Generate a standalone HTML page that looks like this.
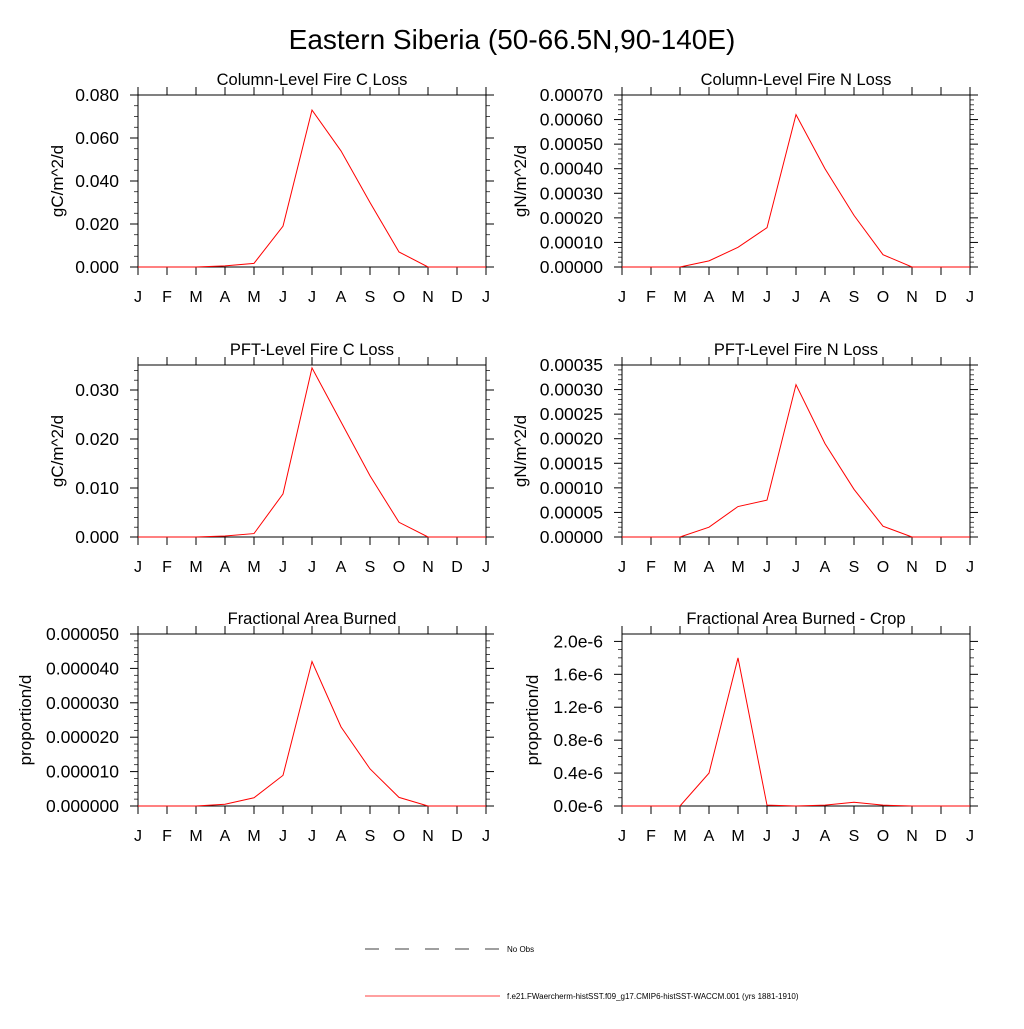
<!DOCTYPE html>
<html><head><meta charset="utf-8">
<style>
body{margin:0;background:#fff;}
svg text{font-family:"Liberation Sans",sans-serif;fill:#000;}
</style></head>
<body>
<svg id="fig" width="1024" height="1024" viewBox="0 0 1024 1024" xmlns="http://www.w3.org/2000/svg">
<rect width="1024" height="1024" fill="#fff"/>
<text x="512" y="49" font-size="28" text-anchor="middle">Eastern Siberia (50-66.5N,90-140E)</text>
<g>
<line x1="365" y1="949" x2="500" y2="949" stroke="#000" stroke-width="0.8" stroke-dasharray="14,16"/>
<text x="507" y="952" font-size="8">No Obs</text>
<line x1="365" y1="996" x2="500" y2="996" stroke="#ff0000" stroke-width="0.8"/>
<text x="507" y="999" font-size="8">f.e21.FWaercherm-histSST.f09_g17.CMIP6-histSST-WACCM.001 (yrs 1881-1910)</text>
</g>
</svg>
<script>
const months = ["J","F","M","A","M","J","J","A","S","O","N","D","J"];
const colC = [0,0,0,0.0005,0.0017,0.019,0.073,0.054,0.030,0.007,0,0,0];
const colN = [0,0,0,0.000025,0.00008,0.00016,0.00062,0.0004,0.00021,0.00005,0,0,0];
const pftC = [0,0,0,0.0002,0.0007,0.0088,0.0345,0.0235,0.0125,0.003,0,0,0];
const pftN = [0,0,0,0.00002,0.000062,0.000075,0.00031,0.00019,0.000097,0.000022,0,0,0];
const fab = [0,0,0,0.0000005,0.0000024,0.0000089,0.000042,0.000023,0.0000108,0.0000025,0,0,0];
const fabCrop = [0,0,0,0.4,1.8,0.01,0,0.01,0.045,0.01,0,0,0];
const ticksColC = ["0.000","0.020","0.040","0.060","0.080"];
const ticksColN = ["0.00000","0.00010","0.00020","0.00030","0.00040","0.00050","0.00060","0.00070"];
const ticksPftC = ["0.000","0.010","0.020","0.030"];
const ticksPftN = ["0.00000","0.00005","0.00010","0.00015","0.00020","0.00025","0.00030","0.00035"];
const ticksFab = ["0.000000","0.000010","0.000020","0.000030","0.000040","0.000050"];
const ticksCrop = ["0.0e-6","0.4e-6","0.8e-6","1.2e-6","1.6e-6","2.0e-6"];

const NS="http://www.w3.org/2000/svg";
const svg=document.getElementById('fig');
function mk(tag,attrs,parent){const e=document.createElementNS(NS,tag);for(const k in attrs)e.setAttribute(k,attrs[k]);parent.appendChild(e);return e;}

function panel(name,x0,y0,title,ylab,vals,ticks,step,minorN,ymax,ylabX){
  const w=348,h=172;
  const g=mk('g',{},svg);
  
  
  const xs=i=>x0+i*w/12;
  const ys=v=>y0+h-v/ymax*h;
  const box=mk('rect',{x:x0,y:y0,width:w,height:h,fill:'none',stroke:'#000','stroke-width':1},g);
  
  
  months.forEach((m,i)=>{
    const x=xs(i);
    mk('line',{x1:x,y1:y0,x2:x,y2:y0-8,stroke:'#000','stroke-width':1},g);
    mk('line',{x1:x,y1:y0+h,x2:x,y2:y0+h+8,stroke:'#000','stroke-width':1},g);
    const t=mk('text',{x:x,y:y0+h+35,'font-size':16,'text-anchor':'middle'},g);
    t.textContent=m;
    
    
  });
  const minorStep=step/(minorN+1);
  for(let k=0;k*minorStep<=ymax*1.0001;k++){
    const v=k*minorStep,y=ys(v);
    const major=(k%(minorN+1)===0);
    const L=major?8:4;
    mk('line',{x1:x0,y1:y,x2:x0-L,y2:y,stroke:'#000','stroke-width':major?1:0.7},g);
    mk('line',{x1:x0+w,y1:y,x2:x0+w+L,y2:y,stroke:'#000','stroke-width':major?1:0.7},g);
  }
  ticks.forEach((lab,i)=>{
    const y=ys(i*step);
    const t=mk('text',{x:x0-19,y:y+6,'font-size':17.5,'text-anchor':'end'},g);
    t.textContent=lab;
    
    
  });
  const tt=mk('text',{x:x0+w/2,y:y0-10,'font-size':16.5,'text-anchor':'middle'},g);
  tt.textContent=title;
  
  
  const yl=mk('text',{x:0,y:0,'font-size':17,'text-anchor':'middle',transform:`translate(${ylabX+6},${y0+h/2}) rotate(-90)`},g);
  yl.textContent=ylab;
  
  
  const pts=vals.map((v,i)=>xs(i).toFixed(2)+','+ys(v).toFixed(2)).join(' ');
  const pl=mk('polyline',{points:pts,fill:'none',stroke:'#ff0000','stroke-width':1},g);
  
  
}
panel('panel-column-fire-c-loss',138,95,'Column-Level Fire C Loss','gC/m^2/d',colC,ticksColC,0.02,3,0.08,57);
panel('panel-column-fire-n-loss',622,95,'Column-Level Fire N Loss','gN/m^2/d',colN,ticksColN,0.0001,4,0.0007,520);
panel('panel-pft-fire-c-loss',138,365,'PFT-Level Fire C Loss','gC/m^2/d',pftC,ticksPftC,0.01,4,0.0351,57);
panel('panel-pft-fire-n-loss',622,365,'PFT-Level Fire N Loss','gN/m^2/d',pftN,ticksPftN,0.00005,4,0.00035,520);
panel('panel-fractional-area-burned',138,634,'Fractional Area Burned','proportion/d',fab,ticksFab,0.00001,4,0.00005,25);
panel('panel-fractional-area-burned-crop',622,634,'Fractional Area Burned - Crop','proportion/d',fabCrop,ticksCrop,0.4,3,2.09,532);
</script>
</body></html>
